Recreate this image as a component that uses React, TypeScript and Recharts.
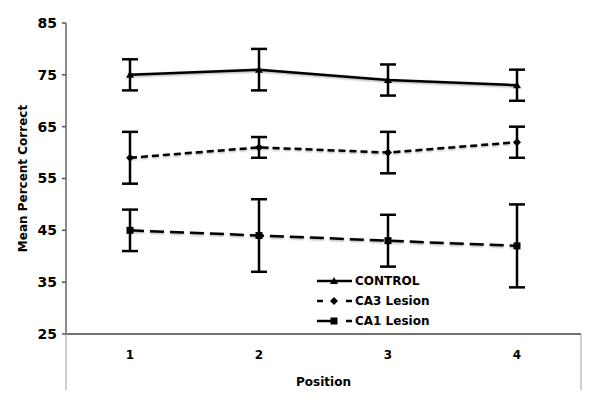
import React from "react";
import { ErrorBar, Line, LineChart, XAxis, YAxis } from "recharts";

const positions = ["1", "2", "3", "4"];
const controlMean = [75, 76, 74, 73];
const controlErr = [3, 4, 3, 3];
const ca3Mean = [59, 61, 60, 62];
const ca3Err = [5, 2, 4, 3];
const ca1Mean = [45, 44, 43, 42];
const ca1Err = [4, 7, 5, 8];
const yTicks = [25, 35, 45, 55, 65, 75, 85];

const FONT = "'DejaVu Sans', Verdana, sans-serif";

const data = positions.map((p, i) => ({
  position: p,
  control: controlMean[i],
  controlErr: controlErr[i],
  ca3: ca3Mean[i],
  ca3Err: ca3Err[i],
  ca1: ca1Mean[i],
  ca1Err: ca1Err[i],
}));

type Marker = "triangle" | "diamond" | "square";

function markerShape(kind: Marker, cx: number, cy: number, key?: string) {
  if (kind === "triangle")
    return <polygon key={key} points={`${cx},${cy - 4} ${cx - 4},${cy + 3} ${cx + 4},${cy + 3}`} fill="#000" />;
  if (kind === "diamond")
    return <polygon key={key} points={`${cx},${cy - 4} ${cx + 4},${cy} ${cx},${cy + 4} ${cx - 4},${cy}`} fill="#000" />;
  return <rect key={key} x={cx - 3.5} y={cy - 3.5} width={7} height={7} fill="#000" />;
}

const dotFor = (kind: Marker) => (props: any) =>
  markerShape(kind, props.cx, props.cy, `${kind}-${props.index}`);

function YLabel(props: any) {
  const vb = props.viewBox;
  const cy = vb.y + vb.height / 2;
  return (
    <text
      x={23}
      y={cy}
      transform={`rotate(-90 23 ${cy})`}
      textAnchor="middle"
      dominantBaseline="central"
      fontFamily={FONT}
      fontWeight="bold"
      fontSize={12}
      fill="#000"
    >
      Mean Percent Correct
    </text>
  );
}

function XLabel(props: any) {
  const { x, y, width } = props.viewBox;
  return (
    <g>
      <line x1={x} y1={y} x2={x} y2={y + 56} stroke="#a0a0a0" strokeWidth={1} />
      <line x1={x + width} y1={y} x2={x + width} y2={y + 56} stroke="#a0a0a0" strokeWidth={1} />
      <text
        x={x + width / 2}
        y={y + 52}
        textAnchor="middle"
        fontFamily={FONT}
        fontWeight="bold"
        fontSize={12}
        fill="#000"
      >
        Position
      </text>
    </g>
  );
}

const legendItems: { name: string; marker: Marker; kind: "solid" | "short" | "long" }[] = [
  { name: "CONTROL", marker: "triangle", kind: "solid" },
  { name: "CA3 Lesion", marker: "diamond", kind: "short" },
  { name: "CA1 Lesion", marker: "square", kind: "long" },
];

function LegendIcon({ marker, kind }: { marker: Marker; kind: string }) {
  return (
    <svg width={37} height={12} style={{ display: "block" }}>
      {kind === "solid" && <line x1={0} y1={6} x2={35} y2={6} stroke="#000" strokeWidth={2.5} />}
      {kind === "short" && (
        <>
          <line x1={0} y1={6} x2={6} y2={6} stroke="#000" strokeWidth={2.5} />
          <line x1={29} y1={6} x2={35} y2={6} stroke="#000" strokeWidth={2.5} />
        </>
      )}
      {kind === "long" && (
        <>
          <line x1={0} y1={6} x2={16} y2={6} stroke="#000" strokeWidth={2.5} />
          <line x1={29} y1={6} x2={35} y2={6} stroke="#000" strokeWidth={2.5} />
        </>
      )}
      {markerShape(marker, 17, 6)}
    </svg>
  );
}

function ChartLegend() {
  return (
    <div
      style={{
        position: "absolute",
        left: 317,
        top: 271,
        fontFamily: FONT,
        fontWeight: "bold",
        fontSize: 12,
        color: "#000",
      }}
    >
      {legendItems.map((it) => (
        <div key={it.name} style={{ display: "flex", alignItems: "center", height: 20 }}>
          <LegendIcon marker={it.marker} kind={it.kind} />
          <span style={{ marginLeft: 1 }}>{it.name}</span>
        </div>
      ))}
    </div>
  );
}

export default function App() {
  return (
    <div style={{ position: "absolute", left: 0, top: 0, width: 600, height: 406, background: "#fff", fontFamily: FONT }}>
      {/* Excel-style soft shadow under the series lines */}
      <style>{`.recharts-line-curve { filter: drop-shadow(0px 1.5px 0.8px rgba(0,0,0,0.35)); }`}</style>
      <LineChart width={600} height={406} data={data} margin={{ top: 23, right: 19, bottom: 32, left: 0 }}>
        <XAxis
          dataKey="position"
          padding={{ left: 64, right: 64 }}
          axisLine={{ stroke: "#444", strokeWidth: 1.5 }}
          tickLine={false}
          tickSize={0}
          tickMargin={16}
          height={40}
          tick={{ fill: "#000", fontWeight: "bold", fontSize: 12, fontFamily: FONT }}
          label={<XLabel />}
        />
        <YAxis
          domain={[25, 85]}
          ticks={yTicks}
          width={66}
          axisLine={{ stroke: "#8c8c8c", strokeWidth: 2 }}
          tickLine={{ stroke: "#555", strokeWidth: 1.5 }}
          tickSize={4}
          tickMargin={5}
          tick={{ fill: "#000", fontWeight: "bold", fontSize: 14, fontFamily: FONT }}
          label={<YLabel />}
        />
        <Line
          dataKey="control"
          name="CONTROL"
          stroke="#000"
          strokeWidth={2.5}
          dot={dotFor("triangle")}
          activeDot={false}
          isAnimationActive={false}
        >
          <ErrorBar dataKey="controlErr" width={8} stroke="#000" strokeWidth={2.5} direction="y" />
        </Line>
        <Line
          dataKey="ca3"
          name="CA3 Lesion"
          stroke="#000"
          strokeWidth={2.5}
          strokeDasharray="7 4"
          dot={dotFor("diamond")}
          activeDot={false}
          isAnimationActive={false}
        >
          <ErrorBar dataKey="ca3Err" width={8} stroke="#000" strokeWidth={2.5} direction="y" />
        </Line>
        <Line
          dataKey="ca1"
          name="CA1 Lesion"
          stroke="#000"
          strokeWidth={2.5}
          strokeDasharray="14 6"
          dot={dotFor("square")}
          activeDot={false}
          isAnimationActive={false}
        >
          <ErrorBar dataKey="ca1Err" width={8} stroke="#000" strokeWidth={2.5} direction="y" />
        </Line>
      </LineChart>
      <ChartLegend />
    </div>
  );
}
